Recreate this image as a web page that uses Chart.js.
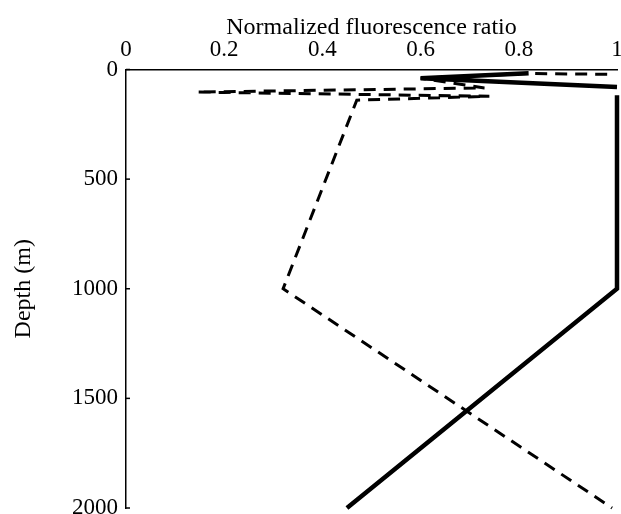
<!DOCTYPE html>
<html>
<head>
<meta charset="utf-8">
<script src="https://cdn.jsdelivr.net/npm/chart.js@4.4.1/dist/chart.umd.min.js"></script>
<style>
html,body{margin:0;padding:0;background:#fff;}
#wrap{width:621px;height:514px;position:relative;}
</style>
</head>
<body>
<div id="wrap"><canvas id="c"></canvas></div>
<script>
// Solid series (normalized ratio vs depth); null marks a break in the line
const solidRatio = [0.82, 0.60, 1.00, null, 1.00, 1.00, 0.45];
const solidDepth = [17, 40, 80, null, 118, 1000, 2000];
// Dashed series
const dashRatio = [0.98, 0.82, 0.60, 0.73, 0.145, 0.74, 0.47, 0.32, 0.99];
const dashDepth = [22, 18, 40, 84, 103, 122, 140, 1000, 2000];
// Axis ticks
const xTicks = [0, 0.2, 0.4, 0.6, 0.8, 1];
const yTicks = [0, 500, 1000, 1500, 2000];

const toPoints = (xs, ys) => xs.map((v, i) => ({x: v === null ? NaN : v, y: ys[i] === null ? NaN : ys[i]}));

const innerTicks = {
  id: 'innerTicks',
  afterDraw(chart) {
    const ctx = chart.ctx, ys = chart.scales.y;
    ctx.save();
    ctx.strokeStyle = '#000';
    ctx.lineWidth = 1.5;
    yTicks.forEach(v => {
      const p = ys.getPixelForValue(v);
      ctx.beginPath();
      ctx.moveTo(ys.right, p);
      ctx.lineTo(ys.right + 4, p);
      ctx.stroke();
    });
    ctx.restore();
  }
};

const serif = "'Liberation Serif', 'Times New Roman', serif";

new Chart(document.getElementById('c'), {
  type: 'scatter',
  data: {
    datasets: [
      {
        data: toPoints(solidRatio, solidDepth),
        showLine: true,
        borderColor: '#000',
        borderWidth: 4.5,
        pointRadius: 0,
        tension: 0,
        spanGaps: false,
        fill: false,
        clip: 8
      },
      {
        data: toPoints(dashRatio, dashDepth),
        showLine: true,
        borderColor: '#000',
        borderWidth: 3,
        borderDash: [12, 8],
        pointRadius: 0,
        tension: 0,
        fill: false,
        clip: 8
      }
    ]
  },
  options: {
    responsive: true,
    maintainAspectRatio: false,
    devicePixelRatio: 1,
    animation: false,
    layout: {padding: {left: 0, top: 0, right: 4, bottom: 6}},
    plugins: {legend: {display: false}, tooltip: {enabled: false}},
    scales: {
      x: {
        type: 'linear',
        position: 'top',
        min: 0, max: 1,
        afterBuildTicks: s => { s.ticks = xTicks.map(v => ({value: v})); },
        ticks: {
          color: '#000', padding: 6, maxRotation: 0, autoSkip: false,
          font: {family: serif, size: 23},
          callback: v => String(Math.round(v * 10) / 10)
        },
        grid: {drawOnChartArea: false, drawTicks: false},
        border: {display: true, color: '#000', width: 1.5},
        title: {
          display: true, text: 'Normalized fluorescence ratio', color: '#000',
          font: {family: serif, size: 24}, padding: {top: 13, bottom: 0}
        },
        afterFit: s => { s.height = 69.5; s.paddingLeft = 0; s.paddingRight = 0; }
      },
      y: {
        type: 'linear',
        position: 'left',
        reverse: true,
        min: 0, max: 2000,
        afterBuildTicks: s => { s.ticks = yTicks.map(v => ({value: v})); },
        ticks: {
          color: '#000', padding: 8, autoSkip: false,
          font: {family: serif, size: 23},
          callback: v => String(v)
        },
        grid: {drawOnChartArea: false, drawTicks: false},
        border: {display: true, color: '#000', width: 1.5},
        title: {
          display: true, text: 'Depth (m)', color: '#000',
          font: {family: serif, size: 24}, padding: {top: 9, bottom: 0}
        },
        afterFit: s => { s.width = 126; s.paddingTop = 0; s.paddingBottom = 0; }
      }
    }
  },
  plugins: [innerTicks]
});
</script>
</body>
</html>
